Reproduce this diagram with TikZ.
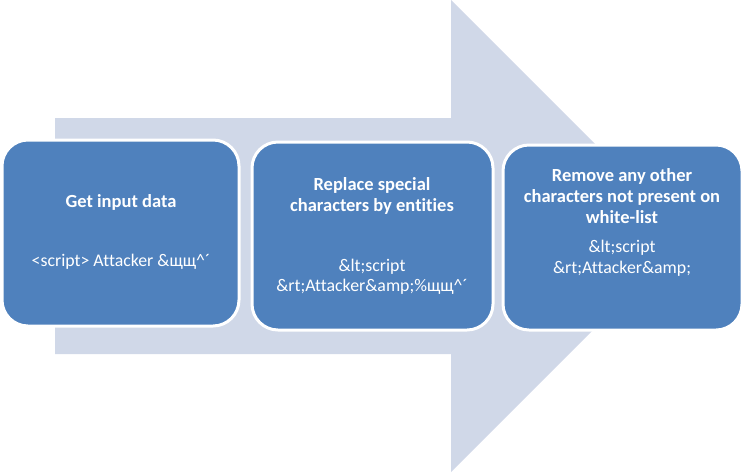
\documentclass[tikz,border=0pt]{standalone}
\usepackage{fontspec}
\setmainfont{Carlito}[Ligatures=NoCommon]
\definecolor{flowblue}{HTML}{4F81BD}
\definecolor{arrowgrey}{HTML}{D0D8E8}
\begin{document}
\begin{tikzpicture}[x=1pt,y=-1pt,
  stagebox/.style={draw=white,line width=3pt,fill=flowblue,rounded corners=26pt},
  headtext/.style={text=white,font=\fontsize{18.5}{21}\selectfont\bfseries,align=center,inner sep=0pt},
  sampletext/.style={text=white,font=\fontsize{17.8}{20.5}\selectfont,align=center,inner sep=0pt}]
\useasboundingbox (0,0) rectangle (743,472);
% broad background arrow
\fill[arrowgrey] (55,118) -- (451,118) -- (451,0) -- (687,236) -- (451,472) -- (451,354) -- (55,354) -- cycle;
% the three stages
\draw[stagebox] (2,140) rectangle (239,326);
\draw[stagebox] (252,142) rectangle (493,330);
\draw[stagebox] (503,145) rectangle (742,330);
\node[headtext] (h1) at (121,202) {Get input data};
\node[sampletext] (s1) at (121,262) {<script> Attacker \&щщ\textasciicircum{}´};
\node[headtext] (h2) at (372,196) {Replace special\\characters by entities};
\node[sampletext] (s2) at (372,277) {\&lt;script\\\&rt;Attacker\&amp;\%щщ\textasciicircum{}´};
\node[headtext] (h3) at (622,196) {Remove any other\\characters not present on\\white-list};
\node[sampletext] (s3) at (622,258) {\&lt;script\\\&rt;Attacker\&amp;};
\end{tikzpicture}
\end{document}
